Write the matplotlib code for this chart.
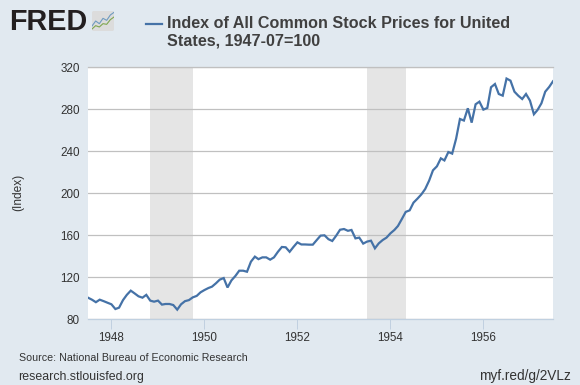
import pandas as pd
import matplotlib
matplotlib.use("Agg")
import matplotlib.pyplot as plt
import matplotlib.dates as mdates
from matplotlib.patches import FancyBboxPatch

# monthly values, from 1947-07
indexValues = [
    100.3, 98.4, 96.0, 98.4, 97.0, 95.5, 94.0, 89.5, 90.8, 98.0, 103.0, 107.0,
    104.4, 101.6, 100.3, 103.0, 97.5, 96.5, 97.5, 93.7, 94.3, 94.3, 93.3, 88.9,
    94.0, 97.0, 98.0, 100.6, 102.0, 105.4, 107.6, 109.5, 110.8, 114.0, 117.5, 119.0,
    110.0, 116.8, 121.0, 126.0, 126.0, 125.0, 134.6, 139.4, 137.0, 138.7, 138.7, 136.5,
    138.7, 144.0, 148.6, 148.3, 144.0, 148.6, 153.0, 151.0, 151.0, 150.8, 150.8, 155.2,
    159.4, 159.7, 156.0, 154.3, 159.4, 165.0, 165.7, 164.0, 164.8, 156.8, 157.5, 151.8,
    153.7, 154.6, 147.3, 152.0, 155.2, 157.5, 161.6, 164.8, 168.6, 175.3, 182.0, 183.5,
    190.8, 194.6, 198.7, 203.8, 211.8, 221.6, 225.4, 233.0, 231.0, 239.0, 237.5, 251.8,
    270.5, 269.0, 280.7, 267.0, 284.5, 287.0, 279.4, 281.0, 300.7, 303.8, 294.3, 292.7,
    309.0, 307.0, 296.5, 292.7, 289.5, 294.3, 288.0, 275.0, 279.0, 285.4, 296.5, 301.0,
    306.4,
]
recessionStart = ["1948-11-01", "1953-07-01"]
recessionEnd = ["1949-10-01", "1954-05-01"]
yTicks = [80, 120, 160, 200, 240, 280, 320]
xTickYears = [1948, 1950, 1952, 1954, 1956]

# small logo chart
logoX = [0, 1, 2, 3, 4, 5, 6]
logoBlue = [1.5, 3.0, 2.2, 3.8, 3.2, 4.8, 5.6]
logoGreen = [0.6, 1.6, 1.2, 2.2, 2.0, 3.4, 4.2]

WIDTH, HEIGHT = 580, 385
BACKGROUND = "#e1e9f0"
LINE_COLOR = "#4572a7"
TEXT_COLOR = "#333333"

plt.rcParams["font.family"] = ["Liberation Sans", "DejaVu Sans"]


def px(x, y):
    return x / WIDTH, 1 - y / HEIGHT


fig = plt.figure(figsize=(WIDTH / 100, HEIGHT / 100), dpi=100, facecolor=BACKGROUND)
left, top = px(88, 67)
right, bottom = px(553, 319)
ax = fig.add_axes([left, bottom, right - left, top - bottom])

dates = pd.date_range("1947-07-01", periods=len(indexValues), freq="MS")

for start, end in zip(recessionStart, recessionEnd):
    ax.axvspan(pd.Timestamp(start), pd.Timestamp(end), color="#e5e5e5", lw=0, zorder=1)

ax.plot(dates, indexValues, color=LINE_COLOR, lw=1.6, zorder=3, solid_joinstyle="miter")

ax.set_xlim(dates[0], dates[-1])
ax.set_ylim(80, 320)
ax.set_yticks(yTicks)
ax.set_xticks([mdates.date2num(pd.Timestamp(f"{y}-01-01")) for y in xTickYears])
ax.set_xticklabels([str(y) for y in xTickYears])
ax.grid(True, axis="y", color="#c0c0c0", lw=0.9, zorder=2)
ax.set_axisbelow(False)
for s in ["left", "right"]:
    ax.spines[s].set_visible(False)
ax.spines["top"].set_color("#c0c0c0")
ax.spines["top"].set_linewidth(0.9)
ax.spines["bottom"].set_color("#c0d0e0")
ax.spines["bottom"].set_linewidth(0.9)
ax.tick_params(axis="y", length=0, pad=6, labelsize=8.4, labelcolor=TEXT_COLOR)
ax.tick_params(axis="x", length=7.2, width=0.7, color="#c0d0e0", pad=2, labelsize=8.4, labelcolor=TEXT_COLOR)

fig.text(*px(18, 192), "(Index)", rotation=90, ha="center", va="center", fontsize=8.6, color=TEXT_COLOR)

# title and legend key
fig.add_artist(plt.Line2D([146 / WIDTH, 162 / WIDTH], [1 - 24 / HEIGHT] * 2, color=LINE_COLOR, lw=1.6))
fig.text(*px(167, 28), "Index of All Common Stock Prices for United", ha="left", va="baseline",
         fontsize=11.6, fontweight="bold", color="#404040")
fig.text(*px(167, 46), "States, 1947-07=100", ha="left", va="baseline",
         fontsize=11.6, fontweight="bold", color="#404040")

# logo
fig.text(*px(9, 30.5), "FRED", ha="left", va="baseline", fontsize=20.8, fontweight="bold", color="#231f20")
logoAx = fig.add_axes([92 / WIDTH, 1 - 31 / HEIGHT, 22 / WIDTH, 20 / HEIGHT])
logoAx.set_facecolor("none")
logoAx.axis("off")
logoAx.add_patch(FancyBboxPatch((0, 0), 6, 6, boxstyle="round,pad=0,rounding_size=0.5", fc="#dcdcdc", ec="none"))
logoAx.plot(logoX, logoBlue, color="#6f9bc0", lw=0.8)
logoAx.plot(logoX, logoGreen, color="#7fa650", lw=0.8)
logoAx.set_xlim(0, 6)
logoAx.set_ylim(0, 6)

# footer
fig.text(*px(19, 361), "Source: National Bureau of Economic Research", ha="left", va="baseline",
         fontsize=7.7, color=TEXT_COLOR)
fig.text(*px(18, 380), "research.stlouisfed.org", ha="left", va="baseline", fontsize=8.95, color=TEXT_COLOR)
fig.text(*px(571, 380), "myf.red/g/2VLz", ha="right", va="baseline", fontsize=9.8, color=TEXT_COLOR)

fig.savefig("out.png", dpi=100, facecolor=BACKGROUND)
